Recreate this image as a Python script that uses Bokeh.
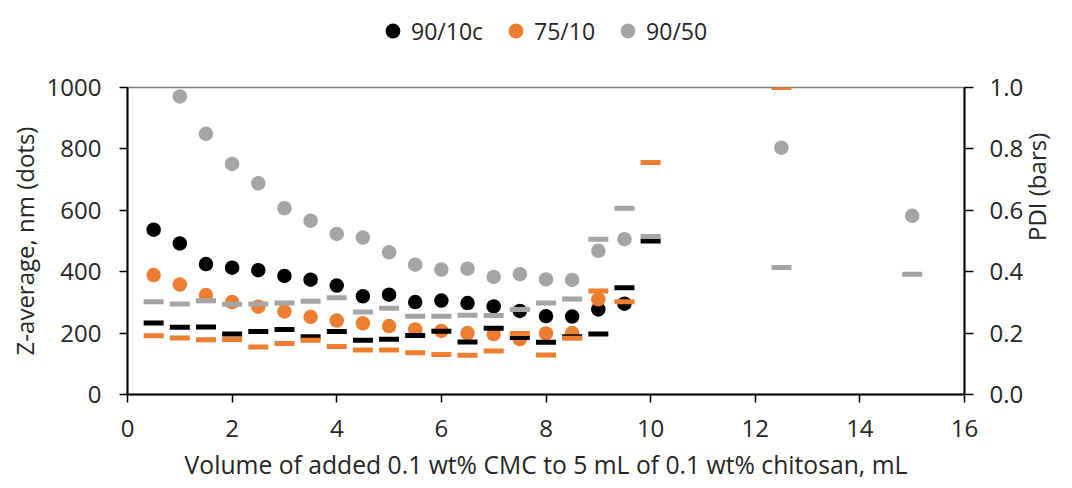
import math
from bokeh.plotting import figure
from bokeh.layouts import column
from bokeh.models import Range1d, LinearAxis, Legend, LegendItem, FixedTicker, PrintfTickFormatter
from bokeh.embed import file_html
from bokeh.resources import INLINE

# ---- data ----
x_ticks = [0, 2, 4, 6, 8, 10, 12, 14, 16]
y_ticks = [0, 200, 400, 600, 800, 1000]
pdi_ticks = [0.0, 0.2, 0.4, 0.6, 0.8, 1.0]

series_names = ["90/10c", "75/10", "90/50"]

# 90/10c
z_x_9010 = [0.5, 1.0, 1.5, 2.0, 2.5, 3.0, 3.5, 4.0, 4.5, 5.0, 5.5, 6.0, 6.5, 7.0, 7.5, 8.0, 8.5, 9.0, 9.5]
z_9010 = [537, 492, 425, 413, 405, 386, 374, 355, 320, 325, 301, 306, 298, 287, 272, 255, 254, 277, 296]
pdi_x_9010 = [0.5, 1.0, 1.5, 2.0, 2.5, 3.0, 3.5, 4.0, 4.5, 5.0, 5.5, 6.0, 6.5, 7.0, 7.5, 8.0, 8.5, 9.0, 9.5, 10.0]
pdi_9010 = [0.233, 0.219, 0.220, 0.197, 0.205, 0.212, 0.188, 0.205, 0.177, 0.180, 0.192, 0.206, 0.171, 0.216,
            0.186, 0.170, 0.188, 0.197, 0.348, 0.500]

# 75/10
z_x_7510 = [0.5, 1.0, 1.5, 2.0, 2.5, 3.0, 3.5, 4.0, 4.5, 5.0, 5.5, 6.0, 6.5, 7.0, 7.5, 8.0, 8.5, 9.0]
z_7510 = [389, 358, 324, 301, 286, 270, 253, 241, 232, 223, 212, 207, 200, 197, 180, 199, 200, 310]
pdi_x_7510 = [0.5, 1.0, 1.5, 2.0, 2.5, 3.0, 3.5, 4.0, 4.5, 5.0, 5.5, 6.0, 6.5, 7.0, 7.5, 8.0, 8.5, 9.0, 9.5, 10.0, 12.5]
pdi_7510 = [0.191, 0.184, 0.178, 0.179, 0.155, 0.166, 0.177, 0.156, 0.145, 0.145, 0.136, 0.130, 0.128, 0.142,
            0.199, 0.129, 0.183, 0.337, 0.302, 0.756, 1.0]

# 90/50
z_x_9050 = [1.0, 1.5, 2.0, 2.5, 3.0, 3.5, 4.0, 4.5, 5.0, 5.5, 6.0, 6.5, 7.0, 7.5, 8.0, 8.5, 9.0, 9.5, 12.5, 15.0]
z_9050 = [971, 849, 751, 688, 607, 566, 523, 511, 463, 423, 407, 410, 383, 392, 375, 373, 468, 506, 804, 582]
pdi_x_9050 = [0.5, 1.0, 1.5, 2.0, 2.5, 3.0, 3.5, 4.0, 4.5, 5.0, 5.5, 6.0, 6.5, 7.0, 7.5, 8.0, 8.5, 9.0, 9.5, 10.0,
              12.5, 15.0]
pdi_9050 = [0.302, 0.295, 0.305, 0.294, 0.295, 0.298, 0.304, 0.315, 0.269, 0.281, 0.255, 0.255, 0.258, 0.257,
            0.277, 0.298, 0.311, 0.506, 0.607, 0.515, 0.414, 0.392]

colors = ["#000000", "#ED7D31", "#A5A5A5"]

FONT = "Open Sans"
TEXT = "#262626"
FS = "24px"

LEG_H = 60

# ---------- legend strip (its own small figure; the series glyphs lie outside its ranges) ----------
leg = figure(width=1072, height=LEG_H, output_backend="svg", toolbar_location=None,
             x_range=Range1d(100, 101), y_range=Range1d(5000, 5001),
             x_axis_location=None, y_axis_location=None,
             min_border_left=0, min_border_right=0, min_border_top=0, min_border_bottom=0)
leg.grid.visible = False
leg.outline_line_color = None
leg.border_fill_color = "white"
leg_renderers = []
for xs, ys, c in [(z_x_9010, z_9010, colors[0]), (z_x_7510, z_7510, colors[1]), (z_x_9050, z_9050, colors[2])]:
    r = leg.scatter(x=xs, y=ys, size=14.8, marker="circle", fill_color=c, line_color=c, line_width=0)
    leg_renderers.append(r)
legend = Legend(items=[LegendItem(label=n, renderers=[r]) for n, r in zip(series_names, leg_renderers)],
                orientation="horizontal", location=(247, LEG_H - 49))
legend.label_text_font = FONT
legend.label_text_font_size = "23px"
legend.label_text_color = TEXT
legend.glyph_width = 37
legend.glyph_height = 37
legend.label_standoff = -6
legend.spacing = 14
legend.padding = 0
legend.margin = 0
legend.border_line_color = None
legend.background_fill_alpha = 0
leg.add_layout(legend, "center")

# ---------- main chart ----------
p = figure(width=1072, height=488 - LEG_H, output_backend="svg", toolbar_location=None,
           x_range=Range1d(0, 16), y_range=Range1d(0, 1000),
           min_border_left=127, min_border_right=107, min_border_top=87 - LEG_H, min_border_bottom=94)
p.extra_y_ranges = {"pdi": Range1d(0, 1)}
p.xgrid.visible = False
p.ygrid.visible = False
p.outline_line_color = "#7f7f7f"
p.outline_line_width = 1.5
p.background_fill_color = "white"
p.border_fill_color = "white"

# dots (Z-average)
for xs, ys, c in [(z_x_9010, z_9010, colors[0]), (z_x_7510, z_7510, colors[1]), (z_x_9050, z_9050, colors[2])]:
    p.scatter(x=xs, y=ys, size=14.5, marker="circle", fill_color=c, line_color=c, line_width=0)

# bars (PDI)
for xs, ys, c in [(pdi_x_9010, pdi_9010, colors[0]), (pdi_x_7510, pdi_7510, colors[1]), (pdi_x_9050, pdi_9050, colors[2])]:
    p.rect(x=xs, y=ys, width=20, height=5, width_units="screen", height_units="screen",
           fill_color=c, line_color=None, y_range_name="pdi")


def style_axis(ax, tick_out, label_standoff, title_standoff):
    ax.axis_line_color = "black"
    ax.axis_line_width = 2
    ax.major_tick_line_color = "black"
    ax.major_tick_line_width = 1.5
    ax.major_tick_in = 0
    ax.major_tick_out = tick_out
    ax.minor_tick_line_color = None
    ax.major_label_standoff = label_standoff
    ax.major_label_text_font = FONT
    ax.major_label_text_font_size = FS
    ax.major_label_text_color = TEXT
    ax.axis_label_text_font = FONT
    ax.axis_label_text_font_size = FS
    ax.axis_label_text_font_style = "normal"
    ax.axis_label_text_color = TEXT
    ax.axis_label_standoff = title_standoff


xa = p.xaxis[0]
xa.ticker = FixedTicker(ticks=x_ticks)
xa.axis_label = "Volume of added 0.1 wt% CMC to 5 mL of 0.1 wt% chitosan, mL"
style_axis(xa, 8, 17, 8)
xa.axis_label_text_font_size = "24.7px"

ya = p.yaxis[0]
ya.ticker = FixedTicker(ticks=y_ticks)
ya.axis_label = "Z-average, nm (dots)"
style_axis(ya, 8, 18, 3)

right = LinearAxis(y_range_name="pdi", ticker=FixedTicker(ticks=pdi_ticks), axis_label="PDI (bars)")
right.formatter = PrintfTickFormatter(format="%.1f")
style_axis(right, 9, 16, 10)
right.axis_label_orientation = math.pi / 2
p.add_layout(right, "right")

layout = column(leg, p, spacing=0)
open("out.html", "w").write(file_html(layout, INLINE))
